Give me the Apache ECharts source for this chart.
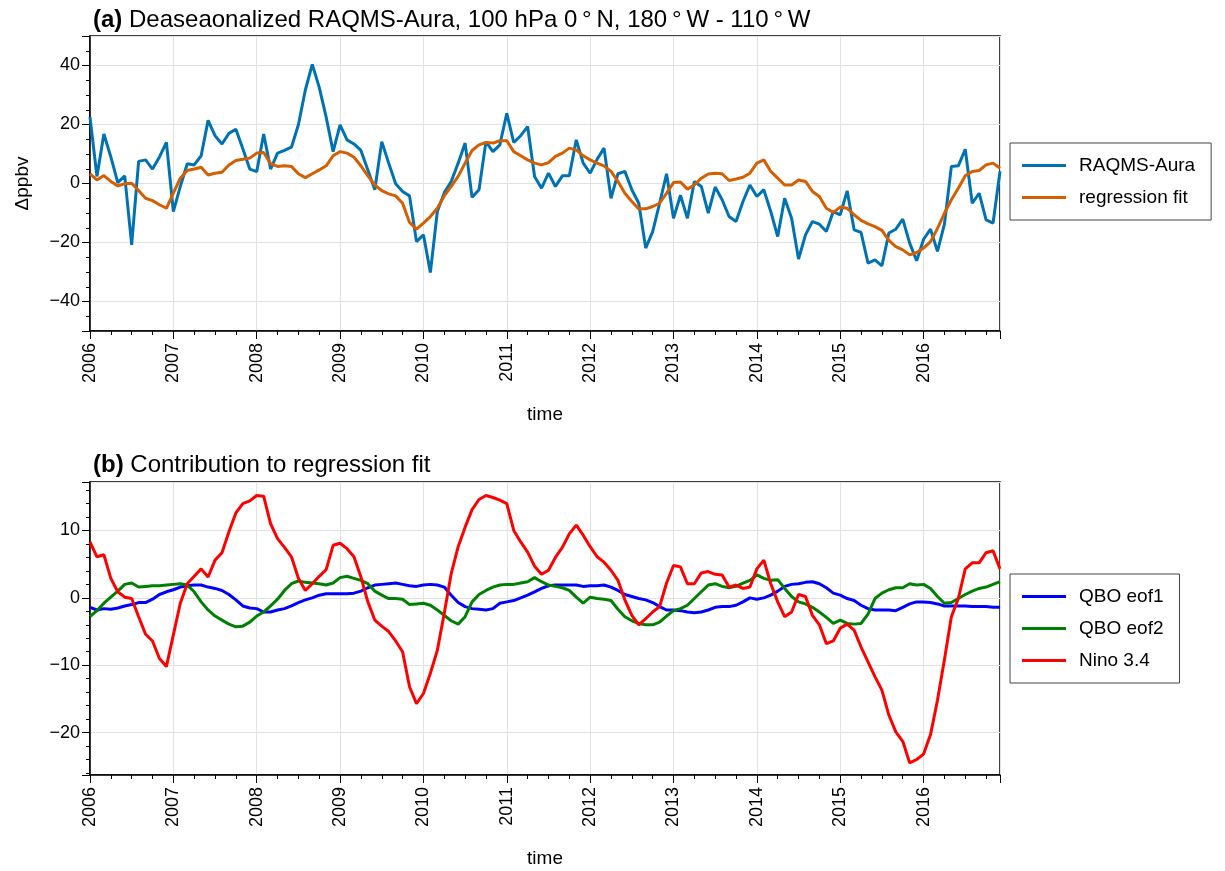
<!DOCTYPE html>
<html>
<head>
<meta charset="utf-8">
<script src="https://cdn.jsdelivr.net/npm/echarts@6/dist/echarts.min.js"></script>
<style>
  html, body { margin: 0; padding: 0; background: #fff; }
  #chart { width: 1225px; height: 871px; }
</style>
</head>
<body>
<div id="chart"></div>
<script>
// monthly values, Jan 2006 .. Dec 2016 (one row per year)
const START_YEAR = 2006

const raqmsAura = [
  22.5, 2.4, 16.8, 9, 0.3, 2.6, -20.8, 7.5, 8, 4.9, 9, 13.9,
  -9.5, -1, 6.7, 6.3, 9.4, 21.4, 16.2, 13.4, 17, 18.4, 11.8, 4.9,
  4, 16.8, 4.9, 10.3, 11.2, 12.3, 19.9, 31.7, 40.4, 32.6, 22.5, 10.8,
  19.9, 14.8, 13.4, 11.2, 4.6, -2.1, 14.2, 6.9, -0.1, -2.7, -4.2, -19.7,
  -17.4, -30.2, -9.5, -3.1, 0.7, 6.9, 13.7, -4.7, -2.1, 14.2, 10.8, 13.1,
  23.8, 13.9, 16.2, 19.3, 2.4, -1.6, 3.5, -1, 2.6, 2.6, 14.8, 6.9,
  3.5, 8.2, 12, -5, 3.3, 4.1, -2.1, -6.7, -21.9, -16.3, -6.7, 3.3,
  -11.8, -4, -11.8, 0.7, -1, -10, -1.2, -5.5, -11.2, -12.9, -6.1, -0.5,
  -4.4, -2.1, -9.5, -18, -5, -11.8, -25.6, -17.4, -12.9, -13.8, -16.3, -9.5,
  -10.6, -2.5, -15.7, -16.6, -27, -25.9, -27.9, -16.8, -15.5, -12.1, -20.2, -26.2,
  -18.9, -15.5, -23, -13.8, 5.8, 6, 11.6, -6.7, -3.3, -12.3, -13.4, 4.1,
]

const regressionFit = [
  3.3, 1.2, 2.7, 0.7, -0.8, -0.1, 0.1, -2.4, -5, -5.8, -7.2, -8.4,
  -3.3, 1.8, 4.4, 4.9, 5.5, 2.9, 3.5, 3.8, 6.3, 7.8, 8.2, 8.6,
  10.3, 10.5, 6.7, 5.8, 6, 5.8, 3.3, 2, 3.3, 4.6, 6, 9.4,
  10.8, 10.3, 8.9, 6, 2.6, -0.5, -2.4, -3.5, -4.2, -6.7, -13.2, -15.5,
  -13.4, -11.2, -8.4, -4.2, -1, 2.4, 6.9, 11.2, 13.1, 13.9, 13.7, 14.5,
  14.5, 10.8, 9.4, 8, 6.9, 6.3, 7.1, 9.2, 10.3, 12, 11.4, 9.4,
  8, 6.9, 6, 4.1, 0.7, -3.3, -6.1, -8.6, -8.6, -7.8, -6.7, -3.3,
  0.3, 0.5, -1.9, -0.5, 1.8, 3.2, 3.5, 3.3, 1, 1.5, 2.1, 3.5,
  6.9, 8, 4.1, 1.8, -0.5, -0.5, 1.2, 0.7, -2.7, -4.4, -8.4, -9.8,
  -8, -8.4, -10.6, -12.5, -13.7, -14.6, -15.9, -19.3, -21.4, -22.5, -24.2, -23.4,
  -21.9, -19.7, -15.2, -10.1, -5.5, -1.6, 2.6, 4.1, 4.4, 6.3, 6.9, 5.2,
]

const qboEof1 = [
  -1.4, -1.8, -1.6, -1.7, -1.5, -1.2, -1, -0.7, -0.7, -0.2, 0.5, 0.9,
  1.2, 1.6, 1.8, 1.9, 1.9, 1.6, 1.4, 1.1, 0.5, -0.3, -1.2, -1.5,
  -1.6, -2.1, -2.1, -1.8, -1.6, -1.2, -0.7, -0.3, 0, 0.4, 0.6, 0.6,
  0.6, 0.6, 0.7, 1, 1.5, 1.9, 2, 2.1, 2.2, 2, 1.8, 1.7,
  1.9, 2, 1.9, 1.6, 0.4, -0.7, -1.3, -1.6, -1.7, -1.8, -1.6, -0.8,
  -0.6, -0.4, 0, 0.4, 0.9, 1.4, 1.8, 1.9, 1.9, 1.9, 1.9, 1.7,
  1.8, 1.8, 1.9, 1.6, 1.1, 0.5, 0.2, -0.1, -0.3, -0.7, -1.3, -1.8,
  -1.8, -1.9, -2.1, -2.2, -2.1, -1.8, -1.4, -1.3, -1.3, -1.1, -0.6, 0,
  -0.2, 0, 0.4, 1, 1.7, 2, 2.1, 2.3, 2.4, 2.1, 1.5, 0.7,
  0.4, -0.1, -0.4, -1.1, -1.6, -1.8, -1.8, -1.8, -1.9, -1.4, -0.9, -0.6,
  -0.6, -0.7, -0.9, -1.2, -1.2, -1.2, -1.2, -1.3, -1.3, -1.3, -1.4, -1.4,
]

const qboEof2 = [
  -2.8, -1.9, -0.8, 0.1, 1, 2, 2.2, 1.6, 1.7, 1.8, 1.8, 1.9,
  2, 2.1, 1.9, 0.9, -0.6, -1.8, -2.7, -3.3, -3.9, -4.3, -4.2, -3.6,
  -2.7, -2.1, -1.2, -0.2, 1.1, 2.1, 2.5, 2.3, 2.2, 2.1, 1.9, 2.2,
  3, 3.2, 2.9, 2.6, 2.1, 1, 0.4, -0.1, -0.1, -0.2, -1, -0.9,
  -0.8, -1.1, -1.8, -2.6, -3.4, -3.9, -2.8, -0.6, 0.5, 1.1, 1.6, 1.9,
  2, 2, 2.2, 2.4, 3, 2.4, 1.9, 1.7, 1.5, 1.1, 0.1, -0.8,
  0.1, -0.1, -0.2, -0.4, -1.7, -2.8, -3.4, -3.8, -4, -4, -3.6, -2.7,
  -1.9, -1.6, -1.1, -0.1, 0.9, 1.9, 2.1, 1.7, 1.5, 1.7, 2.2, 2.6,
  3.4, 2.9, 2.6, 2.7, 1.4, 0.2, -0.6, -0.9, -1.4, -2.1, -2.9, -3.8,
  -3.3, -3.8, -3.9, -3.8, -2.4, -0.1, 0.7, 1.2, 1.5, 1.5, 2.1, 1.9,
  2, 1.4, 0.2, -0.8, -0.7, -0.1, 0.5, 1, 1.4, 1.6, 2, 2.4,
]

const nino34 = [
  8.3, 6.1, 6.4, 2.9, 0.9, 0.1, -0.1, -2.8, -5.4, -6.4, -9, -10.2,
  -5.5, -0.8, 2.1, 3.2, 4.3, 3.1, 5.6, 6.7, 9.8, 12.6, 14, 14.4,
  15.2, 15.1, 11, 8.8, 7.5, 6.1, 2.9, 1.1, 2.1, 3.2, 4.2, 7.8,
  8.1, 7.3, 6.1, 3.1, -0.6, -3.3, -4.2, -5, -6.4, -8, -13.2, -15.7,
  -14.2, -11.2, -7.8, -2.3, 3.6, 7.6, 10.5, 13.1, 14.6, 15.2, 14.9, 14.5,
  14, 10, 8.3, 6.8, 4.7, 3.5, 4.1, 6, 7.5, 9.5, 10.8, 9.3,
  7.6, 6.1, 5.3, 4.1, 2.6, -0.3, -2.6, -4, -3.1, -2.1, -1.3, 2.2,
  4.8, 4.6, 2.1, 2.1, 3.7, 3.9, 3.5, 3.4, 1.6, 1.9, 1.4, 1.6,
  4.3, 5.6, 2.1, -0.6, -2.8, -2.1, 0.5, 0.2, -2.6, -4, -6.8, -6.4,
  -4.5, -3.9, -4.8, -7.3, -9.5, -11.7, -13.7, -17.4, -19.9, -21.3, -24.5, -24,
  -23.2, -20.3, -15.2, -9.2, -2.8, -0.1, 4.3, 5.2, 5.2, 6.7, 7, 4.3,
]

const FONT = '"Liberation Sans", Arial, Helvetica, sans-serif'
const GRID_LINE = '#e2e2e2'

// decimal year for each monthly sample
const monthX = raqmsAura.map((_, i) => START_YEAR + i / 12)
const X_MAX = monthX[monthX.length - 1]

function pairs(vals) {
  return vals.map((v, i) => [monthX[i], v])
}

function fmtNum(v) {
  return v < 0 ? '\u2212' + Math.abs(v) : String(v)
}

function timeAxis(gridIndex) {
  return {
    type: 'value',
    gridIndex,
    min: START_YEAR,
    max: X_MAX,
    interval: 1,
    name: 'time',
    nameLocation: 'middle',
    nameGap: 74,
    nameTextStyle: { fontSize: 19, color: '#000', fontFamily: FONT },
    axisLine: { onZero: false, lineStyle: { color: '#000', width: 1.5 } },
    axisTick: { length: 8, lineStyle: { color: '#000', width: 1 } },
    minorTick: { show: true, splitNumber: 4, length: 4, lineStyle: { color: '#000', width: 1 } },
    axisLabel: {
      rotate: 90, fontSize: 18, color: '#000', fontFamily: FONT, margin: 12,
      showMaxLabel: false,
      formatter: (v) => String(Math.round(v)),
    },
    splitLine: { show: true, lineStyle: { color: GRID_LINE, width: 1 } },
  }
}

function valueAxis(gridIndex, min, max, minorSplit, name) {
  return {
    type: 'value',
    gridIndex,
    min, max,
    splitNumber: 5,
    name,
    nameLocation: 'middle',
    nameGap: 58,
    nameTextStyle: { fontSize: 19, color: '#000', fontFamily: FONT },
    axisLine: { show: true, onZero: false, lineStyle: { color: '#000', width: 1.5 } },
    axisTick: { show: true, length: 8, lineStyle: { color: '#000', width: 1 } },
    minorTick: { show: true, splitNumber: minorSplit, length: 4, lineStyle: { color: '#000', width: 1 } },
    axisLabel: {
      fontSize: 18, color: '#000', fontFamily: FONT, margin: 10,
      showMinLabel: false, showMaxLabel: false,
      formatter: fmtNum,
    },
    splitLine: { show: true, lineStyle: { color: GRID_LINE, width: 1 } },
  }
}

function line(name, vals, color, idx) {
  return {
    name, type: 'line',
    xAxisIndex: idx, yAxisIndex: idx,
    data: pairs(vals),
    symbol: 'none', showSymbol: false,
    lineStyle: { color, width: 3 },
    itemStyle: { color },
  }
}

function legendBox(names, top) {
  return {
    data: names,
    orient: 'vertical',
    left: 1010, top,
    padding: [13, 16, 13, 12],
    itemGap: 13,
    itemWidth: 44, itemHeight: 3,
    icon: 'rect',
    borderColor: '#444', borderWidth: 1, borderRadius: 0,
    textStyle: { fontSize: 19, color: '#000', fontFamily: FONT, padding: [0, 0, 0, 8] },
  }
}

const titleStyle = {
  fontSize: 24, fontWeight: 'normal', color: '#000', fontFamily: FONT,
  rich: { b: { fontSize: 24, fontWeight: 'bold', color: '#000', fontFamily: FONT } },
}

const chart = echarts.init(document.getElementById('chart'))
chart.setOption({
  animation: false,
  backgroundColor: '#fff',
  textStyle: { fontFamily: FONT },
  title: [
    {
      text: '{b|(a)} Deaseaonalized RAQMS-Aura, 100 hPa 0\u2009°\u2009N, 180\u2009°\u2009W - 110\u2009°\u2009W',
      left: 88, top: 3,
      textStyle: titleStyle,
    },
    {
      text: '{b|(b)} Contribution to regression fit',
      left: 88, top: 448,
      textStyle: titleStyle,
    },
  ],
  grid: [
    { left: 90, right: 225, top: 36, height: 295, show: true, borderColor: '#000', borderWidth: 1.5 },
    { left: 90, right: 225, top: 482, height: 293, show: true, borderColor: '#000', borderWidth: 1.5 },
  ],
  xAxis: [timeAxis(0), timeAxis(1)],
  yAxis: [
    valueAxis(0, -50, 50, 4, 'Δppbv'),
    valueAxis(1, -26.3, 17.2, 5, ''),
  ],
  legend: [
    legendBox(['RAQMS-Aura', 'regression fit'], 143),
    legendBox(['QBO eof1', 'QBO eof2', 'Nino 3.4'], 574),
  ],
  series: [
    line('RAQMS-Aura', raqmsAura, '#0072B2', 0),
    line('regression fit', regressionFit, '#D55E00', 0),
    line('QBO eof1', qboEof1, '#0000FF', 1),
    line('QBO eof2', qboEof2, '#008000', 1),
    line('Nino 3.4', nino34, '#FF0000', 1),
  ],
})
</script>
</body>
</html>
